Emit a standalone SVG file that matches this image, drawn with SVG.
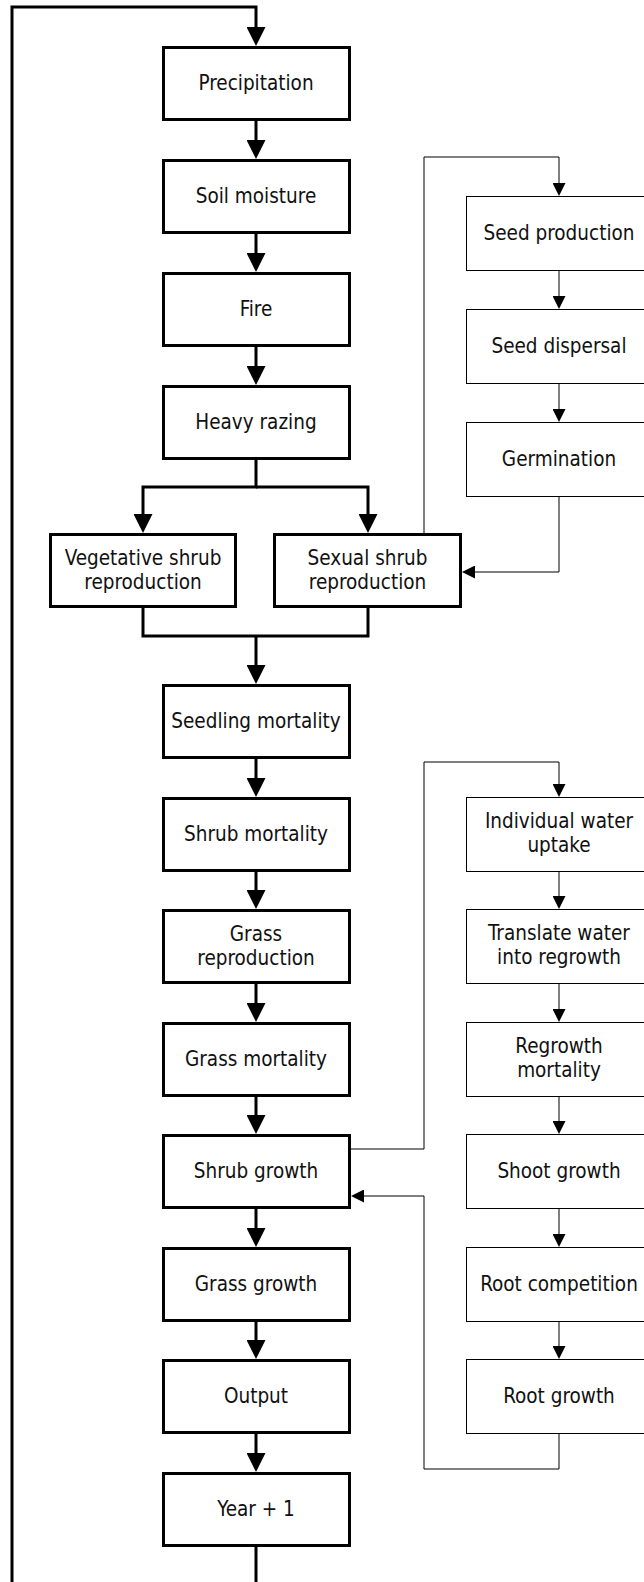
<svg xmlns="http://www.w3.org/2000/svg" width="644" height="1582" viewBox="0 0 644 1582">
<style>
  .bk{fill:#fff;stroke:#000;stroke-width:3}
  .bt{fill:#fff;stroke:#000;stroke-width:1}
  .t{font-family:'DejaVu Sans Condensed','DejaVu Sans',sans-serif;font-stretch:condensed;font-size:20.5px;fill:#111;text-anchor:middle}
  .ck{fill:none;stroke:#000;stroke-width:3;marker-end:url(#ah)}
  .ckn{fill:none;stroke:#000;stroke-width:3}
  .ct{fill:none;stroke:#000;stroke-width:1;marker-end:url(#at)}
</style>
<defs>
  <marker id="ah" markerUnits="userSpaceOnUse" markerWidth="19" markerHeight="19" viewBox="0 0 19 19" refX="7" refY="9.5" orient="auto"><path d="M0,0 L19,9.5 L0,19 Z" fill="#000"/></marker>
  <marker id="at" markerUnits="userSpaceOnUse" markerWidth="13" markerHeight="13" viewBox="0 0 13 13" refX="6" refY="6.5" orient="auto"><path d="M0,0 L13,6.5 L0,13 Z" fill="#000"/></marker>
</defs>
<rect width="644" height="1582" fill="#fff"/>
<g id="connectors">
  <path class="ck" d="M256,1547 V1600 H12 V7 H256 V34"/>
  <path class="ck" d="M256,121 V147"/>
  <path class="ck" d="M256,234 V260"/>
  <path class="ck" d="M256,347 V373"/>
  <path class="ck" d="M256,460 V487 H143 V521"/>
  <path class="ck" d="M256,487 H368 V521"/>
  <path class="ckn" d="M143,608 V636 H368 V608"/>
  <path class="ck" d="M256,636 V672"/>
  <path class="ck" d="M256,759 V785"/>
  <path class="ck" d="M256,872 V897"/>
  <path class="ck" d="M256,984 V1010"/>
  <path class="ck" d="M256,1097 V1122"/>
  <path class="ck" d="M256,1209 V1235"/>
  <path class="ck" d="M256,1322 V1347"/>
  <path class="ck" d="M256,1434 V1460"/>
  <path class="ct" d="M424,533 V157 H559 V189"/>
  <path class="ct" d="M559,271 V302"/>
  <path class="ct" d="M559,384 V415"/>
  <path class="ct" d="M559,497 V572 H469"/>
  <path class="ct" d="M351,1149 H424 V762 H559 V790"/>
  <path class="ct" d="M559,872 V902"/>
  <path class="ct" d="M559,984 V1015"/>
  <path class="ct" d="M559,1097 V1127"/>
  <path class="ct" d="M559,1209 V1240"/>
  <path class="ct" d="M559,1322 V1352"/>
  <path class="ct" d="M559,1434 V1469 H424 V1196 H358"/>
</g>
<g id="precipitation"><rect class="bk" x="163.5" y="47.5" width="186" height="72"/><text class="t" x="256" y="90">Precipitation</text></g>
<g id="soil-moisture"><rect class="bk" x="163.5" y="160.5" width="186" height="72"/><text class="t" x="256" y="203">Soil moisture</text></g>
<g id="fire"><rect class="bk" x="163.5" y="273.5" width="186" height="72"/><text class="t" x="256" y="316">Fire</text></g>
<g id="heavy-razing"><rect class="bk" x="163.5" y="386.5" width="186" height="72"/><text class="t" x="256" y="429">Heavy razing</text></g>
<g id="vegetative-shrub-reproduction"><rect class="bk" x="50.5" y="534.5" width="185" height="72"/><text class="t" x="143" y="565">Vegetative shrub</text><text class="t" x="143" y="589">reproduction</text></g>
<g id="sexual-shrub-reproduction"><rect class="bk" x="274.5" y="534.5" width="186" height="72"/><text class="t" x="367.5" y="565">Sexual shrub</text><text class="t" x="367.5" y="589">reproduction</text></g>
<g id="seedling-mortality"><rect class="bk" x="163.5" y="685.5" width="186" height="72"/><text class="t" x="256" y="728">Seedling mortality</text></g>
<g id="shrub-mortality"><rect class="bk" x="163.5" y="798.5" width="186" height="72"/><text class="t" x="256" y="841">Shrub mortality</text></g>
<g id="grass-reproduction"><rect class="bk" x="163.5" y="910.5" width="186" height="72"/><text class="t" x="256" y="941">Grass</text><text class="t" x="256" y="965">reproduction</text></g>
<g id="grass-mortality"><rect class="bk" x="163.5" y="1023.5" width="186" height="72"/><text class="t" x="256" y="1066">Grass mortality</text></g>
<g id="shrub-growth"><rect class="bk" x="163.5" y="1135.5" width="186" height="72"/><text class="t" x="256" y="1178">Shrub growth</text></g>
<g id="grass-growth"><rect class="bk" x="163.5" y="1248.5" width="186" height="72"/><text class="t" x="256" y="1291">Grass growth</text></g>
<g id="output"><rect class="bk" x="163.5" y="1360.5" width="186" height="72"/><text class="t" x="256" y="1403">Output</text></g>
<g id="year-plus-1"><rect class="bk" x="163.5" y="1473.5" width="186" height="72"/><text class="t" x="256" y="1516">Year + 1</text></g>
<g id="seed-production"><rect class="bt" x="466.5" y="196.5" width="186" height="74"/><text class="t" x="559" y="240">Seed production</text></g>
<g id="seed-dispersal"><rect class="bt" x="466.5" y="309.5" width="186" height="74"/><text class="t" x="559" y="353">Seed dispersal</text></g>
<g id="germination"><rect class="bt" x="466.5" y="422.5" width="186" height="74"/><text class="t" x="559" y="466">Germination</text></g>
<g id="individual-water-uptake"><rect class="bt" x="466.5" y="797.5" width="186" height="74"/><text class="t" x="559" y="828">Individual water</text><text class="t" x="559" y="852">uptake</text></g>
<g id="translate-water-into-regrowth"><rect class="bt" x="466.5" y="909.5" width="186" height="74"/><text class="t" x="559" y="940">Translate water</text><text class="t" x="559" y="964">into regrowth</text></g>
<g id="regrowth-mortality"><rect class="bt" x="466.5" y="1022.5" width="186" height="74"/><text class="t" x="559" y="1053">Regrowth</text><text class="t" x="559" y="1077">mortality</text></g>
<g id="shoot-growth"><rect class="bt" x="466.5" y="1134.5" width="186" height="74"/><text class="t" x="559" y="1178">Shoot growth</text></g>
<g id="root-competition"><rect class="bt" x="466.5" y="1247.5" width="186" height="74"/><text class="t" x="559" y="1291">Root competition</text></g>
<g id="root-growth"><rect class="bt" x="466.5" y="1359.5" width="186" height="74"/><text class="t" x="559" y="1403">Root growth</text></g>
</svg>
